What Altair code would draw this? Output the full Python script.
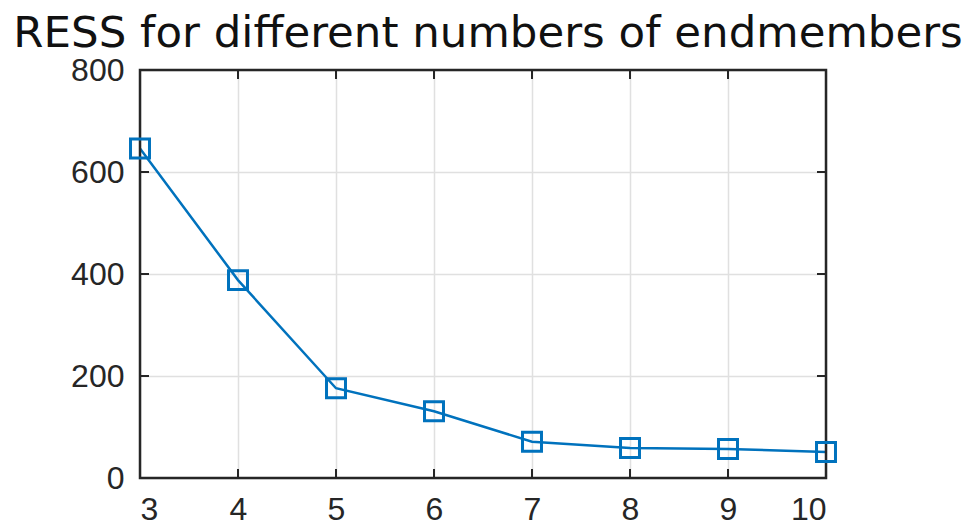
import altair as alt
import pandas as pd

endmembers = [3, 4, 5, 6, 7, 8, 9, 10]
ress = [646, 388, 176, 131, 71, 59, 57, 51]
x_ticks = [3, 4, 5, 6, 7, 8, 9, 10]
y_ticks = [0, 200, 400, 600, 800]

W, H = 686, 408
TICK = 9
AX = "#262626"
BLUE = "#0072BD"

df = pd.DataFrame({"n": endmembers, "ress": ress})
xt = pd.DataFrame({"n": x_ticks})
yt = pd.DataFrame({"v": y_ticks})
box = pd.DataFrame({"k": [0]})

xs = alt.Scale(domain=[3, 10], nice=False, zero=False)
ys = alt.Scale(domain=[0, 800], nice=False)

xaxis = alt.Axis(values=x_ticks, format="d", ticks=False, domain=False,
                 labelFont="Liberation Sans", labelFontSize=32, labelColor=AX,
                 labelPadding=16, gridColor="#e0e0e0", gridWidth=1.5, title=None)
yaxis = alt.Axis(values=y_ticks, format="d", ticks=False, domain=False,
                 labelFont="Liberation Sans", labelFontSize=32, labelColor=AX,
                 labelPadding=16, gridColor="#e0e0e0", gridWidth=1.5, title=None)

line = alt.Chart(df).mark_line(color=BLUE, strokeWidth=2.5).encode(
    x=alt.X("n:Q", scale=xs, axis=xaxis),
    y=alt.Y("ress:Q", scale=ys, axis=yaxis),
)
pts = alt.Chart(df).mark_point(shape="square", filled=False, color=BLUE,
                               size=360, strokeWidth=3, opacity=1).encode(
    x=alt.X("n:Q", scale=xs), y=alt.Y("ress:Q", scale=ys))

bt = alt.Chart(xt).mark_rule(color=AX, strokeWidth=2).encode(
    x=alt.X("n:Q", scale=xs), y=alt.value(H), y2=alt.value(H - TICK))
tt = alt.Chart(xt).mark_rule(color=AX, strokeWidth=2).encode(
    x=alt.X("n:Q", scale=xs), y=alt.value(0), y2=alt.value(TICK))
lt = alt.Chart(yt).mark_rule(color=AX, strokeWidth=2).encode(
    y=alt.Y("v:Q", scale=ys), x=alt.value(0), x2=alt.value(TICK))
rt = alt.Chart(yt).mark_rule(color=AX, strokeWidth=2).encode(
    y=alt.Y("v:Q", scale=ys), x=alt.value(W), x2=alt.value(W - TICK))
frame = alt.Chart(box).mark_rect(filled=False, stroke=AX, strokeWidth=2.5).encode(
    x=alt.value(0), x2=alt.value(W), y=alt.value(0), y2=alt.value(H))

chart = alt.layer(line, bt, tt, lt, rt, frame, pts).properties(
    width=W, height=H,
    background="white",
    title=alt.TitleParams("RESS for different numbers of endmembers",
                          font="DejaVu Sans", fontSize=43.5, fontWeight="normal",
                          color="#111111", anchor="middle", frame="group",
                          offset=1, dx=5, dy=3),
    autosize=alt.AutoSizeParams(type="none"),
    padding={"left": 132, "top": 62, "right": 146, "bottom": 52},
).configure_view(stroke=None)

chart.save("out.html", embed_options={"renderer": "svg", "actions": False})
